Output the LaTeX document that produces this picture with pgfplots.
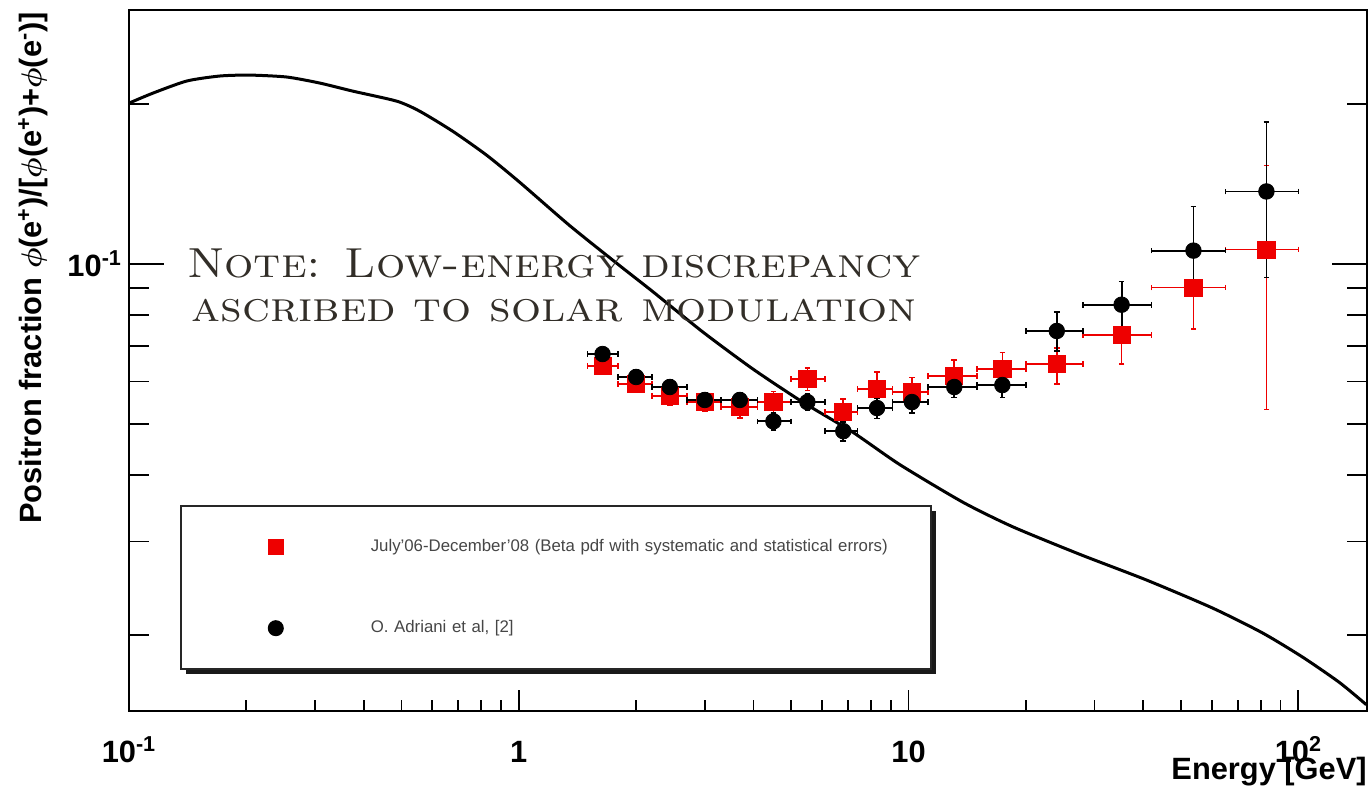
\documentclass[border=0pt]{standalone}
\usepackage{pgfplots}
\pgfplotsset{compat=1.18}
\usepackage{pgfplotstable}
\usepackage{graphicx}
\usepackage{fontspec}
\setsansfont{Liberation Sans}
\usetikzlibrary{shadows}

\definecolor{datared}{RGB}{238,0,0}
\definecolor{notegray}{RGB}{50,46,40}
\definecolor{legendtext}{RGB}{70,70,70}

% positron fraction, this analysis (bins with asymmetric errors)
\pgfplotstableread{
x     y       exm   exp   eym    eyp
1.64  0.0642  0.14  0.16  0.0022 0.0022
2.00  0.0594  0.20  0.20  0.0022 0.0022
2.44  0.0564  0.24  0.26  0.0022 0.0022
3.00  0.0549  0.30  0.30  0.0022 0.0022
3.69  0.0537  0.39  0.41  0.0024 0.0024
4.50  0.0549  0.40  0.50  0.0026 0.0026
5.50  0.0607  0.50  0.60  0.0030 0.0030
6.80  0.0526  0.70  0.60  0.0030 0.0030
8.30  0.0581  0.90  0.80  0.0045 0.0045
10.2  0.0573  1.10  1.00  0.0038 0.0038
13.1  0.0615  1.90  1.90  0.0043 0.0043
17.4  0.0634  2.40  2.60  0.0047 0.0047
24.0  0.0648  4.00  4.00  0.0055 0.0045
35.2  0.0734  7.20  6.80  0.0086 0.0106
53.8  0.0901  11.8  11.2  0.0147 0.0143
82.8  0.1063  17.8  17.2  0.0531 0.0467
}\redtab

% positron fraction, O. Adriani et al.
\pgfplotstableread{
x     y       exm   exp   eym    eyp
1.64  0.0676  0.14  0.16  0.0020 0.0020
2.00  0.0612  0.20  0.20  0.0018 0.0018
2.44  0.0586  0.24  0.26  0.0018 0.0018
3.00  0.0554  0.30  0.30  0.0017 0.0017
3.69  0.0554  0.39  0.41  0.0018 0.0018
4.50  0.0505  0.40  0.50  0.0018 0.0018
5.50  0.0549  0.50  0.60  0.0020 0.0020
6.80  0.0484  0.70  0.60  0.0020 0.0020
8.30  0.0535  0.90  0.80  0.0024 0.0024
10.2  0.0549  1.10  1.00  0.0025 0.0025
13.1  0.0586  1.90  1.90  0.0026 0.0026
17.4  0.0591  2.40  2.60  0.0031 0.0031
24.0  0.0747  4.00  4.00  0.0062 0.0065
35.2  0.0837  7.20  6.80  0.0080 0.0088
53.8  0.1058  11.8  11.2  0.0180 0.0223
82.8  0.1367  17.8  17.2  0.0426 0.0479
}\blacktab

% secondary-production model curve
\pgfplotstableread{
x       y
0.1     0.2004
0.1152  0.2093
0.1408  0.2206
0.1711  0.2254
0.2043  0.2263
0.2541  0.2244
0.3088  0.2186
0.3753  0.2111
0.4866  0.2021
0.5574  0.1935
0.6773  0.1774
0.8277  0.1599
1.006   0.1422
1.351   0.1179
1.816   0.0991
2.206   0.0886
2.964   0.0744
3.981   0.0634
5.348   0.0549
7.184   0.0482
9.48    0.0419
13.76   0.0356
18.48   0.0320
27.45   0.0284
40.76   0.0254
60.18   0.0225
80.86   0.0202
102.4   0.0182
127.4   0.0163
149.4   0.0148
}\modeltab

\newcommand\notestyle{\rmfamily\scshape\fontsize{21}{24}\selectfont}

\begin{document}
\begin{tikzpicture}
\path[use as bounding box] (-64.5pt,-38.5pt) rectangle (620.5pt,355.5pt);

% x ticks and x label
\begin{axis}[
  at={(0,0)}, anchor=south west,
  scale only axis, width=619pt, height=350.5pt,
  xmode=log, ymode=log,
  xmin=0.1, xmax=150, ymin=0.0144, ymax=0.3,
  tick align=inside,
  axis line style={draw=none},
  ytick=\empty,
  xtick pos=bottom,
  xtick={0.1,1,10,100},
  xticklabels={10\textsuperscript{-1},1,10,10\textsuperscript{2}},
  minor xtick={0.2,0.3,0.4,0.5,0.6,0.7,0.8,0.9,2,3,4,5,6,7,8,9,20,30,40,50,60,70,80,90},
  major tick length=10.5pt, minor tick length=5.5pt,
  every tick/.style={black, line width=0.9pt},
  xticklabel style={anchor=base, yshift=-25.5pt,
    font=\sffamily\bfseries\fontsize{15.4}{18}\selectfont},
  xlabel={Energy [GeV]},
  xlabel style={at={(rel axis cs:1,0)}, anchor=base east, inner sep=0pt,
    yshift=-34pt, font=\sffamily\bfseries\fontsize{15.4}{18}\selectfont},
]
\end{axis}

% frame, y ticks and data
\begin{axis}[
  at={(0,0)}, anchor=south west,
  scale only axis, width=619pt, height=350.5pt,
  xmode=log, ymode=log,
  xmin=0.1, xmax=150, ymin=0.0144, ymax=0.3,
  tick align=inside,
  axis line style={line width=1pt},
  xtick=\empty,
  ytick pos=both,
  ytick={0.1},
  yticklabels={10\textsuperscript{-1}},
  minor ytick={0.02,0.03,0.04,0.05,0.06,0.07,0.08,0.09,0.2,0.3},
  major tick length=17.5pt, minor tick length=10pt,
  every tick/.style={black, line width=0.9pt},
  yticklabel style={font=\sffamily\bfseries\fontsize{15.4}{18}\selectfont},
  ylabel={Positron fraction {\boldmath$\phi$}(e\textsuperscript{+})/[{\boldmath$\phi$}(e\textsuperscript{+})+{\boldmath$\phi$}(e\textsuperscript{-})]},
  ylabel style={at={(axis description cs:-0.0775,0.632)}, anchor=center,
    font=\sffamily\bfseries\fontsize{15.4}{18}\selectfont},
  legend cell align=left,
  legend style={
    at={(axis description cs:0.0412,0.2939)}, anchor=north west,
    draw=black!85, line width=0.8pt, fill=white,
    drop shadow={shadow xshift=2.5pt, shadow yshift=-2.5pt, fill=black, opacity=0.9},
    inner sep=0pt, column sep=0pt, row sep=0pt,
    font=\sffamily\fontsize{8.4}{10}\selectfont, text=legendtext,
    nodes={inner sep=0pt, text width=280pt},
  },
  % each legend image reserves a 95pt x 40.8pt cell with the mark at its centre
  legend image code/.code={
    \pgfpathrectangle{\pgfpoint{-47.5pt}{-20.4pt}}{\pgfpoint{95pt}{40.8pt}}%
    \pgfusepath{discard}%
    \draw[#1, mark size=3.6pt] plot coordinates {(0pt,0pt)};
  },
]
\addplot[black, line width=1.5pt, smooth, tension=0.4, forget plot]
  table[x=x, y=y] {\modeltab};

\addplot[only marks, mark=square*, mark size=4.3pt, color=datared,
  mark options={draw=datared, fill=datared},
  error bars/.cd, x dir=both, x explicit, y dir=both, y explicit,
  error bar style={line width=0.8pt, datared},
  error mark options={rotate=90, mark size=1.4pt, line width=0.8pt, datared}]
  table[x=x, y=y, x error minus=exm, x error plus=exp,
        y error minus=eym, y error plus=eyp] {\redtab};
\addlegendentry{July'06-December'08 (Beta pdf with systematic and statistical errors)}

\addplot[only marks, mark=*, mark size=3.9pt, color=black,
  mark options={draw=black, fill=black},
  error bars/.cd, x dir=both, x explicit, y dir=both, y explicit,
  error bar style={line width=0.9pt, black},
  error mark options={rotate=90, mark size=1.4pt, line width=0.8pt, black}]
  table[x=x, y=y, x error minus=exm, x error plus=exp,
        y error minus=eym, y error plus=eyp] {\blacktab};
\addlegendentry{O. Adriani et al, [2]}

\node[anchor=base, text=notegray, font=\notestyle]
  at (axis description cs:0.3433,0.6177)
  {\scalebox{1.097}[1]{Note: Low-energy discrepancy}};
\node[anchor=base, text=notegray, font=\notestyle]
  at (axis description cs:0.3433,0.555)
  {\scalebox{1.126}[1]{ascribed to solar modulation}};
\end{axis}
\end{tikzpicture}
\end{document}
